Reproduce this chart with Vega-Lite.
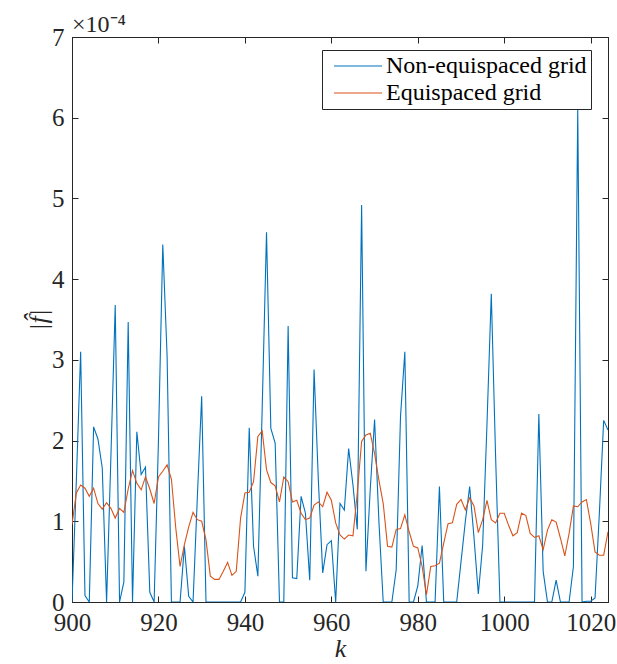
{
  "$schema": "https://vega.github.io/schema/vega-lite/v6.json",
  "width": 536,
  "height": 565,
  "autosize": "none",
  "padding": {"left": 72, "top": 37, "right": 9, "bottom": 62},
  "background": "white",
  "config": {
    "view": {"stroke": "#262626", "strokeWidth": 1},
    "font": "Liberation Serif",
    "axis": {"grid": false, "domainColor": "#262626", "tickColor": "#262626", "labelColor": "#262626", "titleColor": "#262626", "labelFont": "Liberation Serif", "titleFont": "Liberation Serif", "labelFontSize": 25, "titleFontSize": 26, "titleFontWeight": "normal", "tickSize": -6, "domain": true, "labelFlush": false, "labelOverlap": false}
  },
  "title": {"text": "×10⁻⁴", "anchor": "start", "frame": "group", "fontSize": 24, "font": "Liberation Serif", "fontWeight": "normal", "color": "#262626", "offset": -12},
  "data": {"values": [
    {"k":900,"Non-equispaced grid":0,"Equispaced grid":0.96},
    {"k":901,"Non-equispaced grid":1.5,"Equispaced grid":1.35},
    {"k":902,"Non-equispaced grid":3.1,"Equispaced grid":1.45},
    {"k":903,"Non-equispaced grid":0.08,"Equispaced grid":1.41},
    {"k":904,"Non-equispaced grid":0,"Equispaced grid":1.31},
    {"k":905,"Non-equispaced grid":2.17,"Equispaced grid":1.41},
    {"k":906,"Non-equispaced grid":2.02,"Equispaced grid":1.22},
    {"k":907,"Non-equispaced grid":1.66,"Equispaced grid":1.15},
    {"k":908,"Non-equispaced grid":0,"Equispaced grid":1.23},
    {"k":909,"Non-equispaced grid":1.8,"Equispaced grid":1.16},
    {"k":910,"Non-equispaced grid":3.68,"Equispaced grid":1.04},
    {"k":911,"Non-equispaced grid":0,"Equispaced grid":1.16},
    {"k":912,"Non-equispaced grid":0.25,"Equispaced grid":1.11},
    {"k":913,"Non-equispaced grid":3.47,"Equispaced grid":1.4},
    {"k":914,"Non-equispaced grid":0,"Equispaced grid":1.63},
    {"k":915,"Non-equispaced grid":2.11,"Equispaced grid":1.47},
    {"k":916,"Non-equispaced grid":1.58,"Equispaced grid":1.39},
    {"k":917,"Non-equispaced grid":1.67,"Equispaced grid":1.55},
    {"k":918,"Non-equispaced grid":0.12,"Equispaced grid":1.4},
    {"k":919,"Non-equispaced grid":0,"Equispaced grid":1.22},
    {"k":920,"Non-equispaced grid":2.0,"Equispaced grid":1.55},
    {"k":921,"Non-equispaced grid":4.43,"Equispaced grid":1.62},
    {"k":922,"Non-equispaced grid":3.05,"Equispaced grid":1.7},
    {"k":923,"Non-equispaced grid":0,"Equispaced grid":1.52},
    {"k":924,"Non-equispaced grid":0,"Equispaced grid":0.92},
    {"k":925,"Non-equispaced grid":0,"Equispaced grid":0.44},
    {"k":926,"Non-equispaced grid":0.69,"Equispaced grid":0.71},
    {"k":927,"Non-equispaced grid":0.07,"Equispaced grid":0.93},
    {"k":928,"Non-equispaced grid":0,"Equispaced grid":1.11},
    {"k":929,"Non-equispaced grid":1.3,"Equispaced grid":1.02},
    {"k":930,"Non-equispaced grid":2.55,"Equispaced grid":1.0},
    {"k":931,"Non-equispaced grid":0,"Equispaced grid":0.77},
    {"k":932,"Non-equispaced grid":0,"Equispaced grid":0.32},
    {"k":933,"Non-equispaced grid":0,"Equispaced grid":0.28},
    {"k":934,"Non-equispaced grid":0,"Equispaced grid":0.28},
    {"k":935,"Non-equispaced grid":0,"Equispaced grid":0.38},
    {"k":936,"Non-equispaced grid":0,"Equispaced grid":0.49},
    {"k":937,"Non-equispaced grid":0,"Equispaced grid":0.33},
    {"k":938,"Non-equispaced grid":0,"Equispaced grid":0.38},
    {"k":939,"Non-equispaced grid":0,"Equispaced grid":1.04},
    {"k":940,"Non-equispaced grid":0.12,"Equispaced grid":1.35},
    {"k":941,"Non-equispaced grid":2.16,"Equispaced grid":1.36},
    {"k":942,"Non-equispaced grid":0.69,"Equispaced grid":1.49},
    {"k":943,"Non-equispaced grid":0.32,"Equispaced grid":2.05},
    {"k":944,"Non-equispaced grid":2.4,"Equispaced grid":2.12},
    {"k":945,"Non-equispaced grid":4.58,"Equispaced grid":1.64},
    {"k":946,"Non-equispaced grid":2.15,"Equispaced grid":1.48},
    {"k":947,"Non-equispaced grid":1.97,"Equispaced grid":1.44},
    {"k":948,"Non-equispaced grid":0,"Equispaced grid":1.24},
    {"k":949,"Non-equispaced grid":0,"Equispaced grid":1.55},
    {"k":950,"Non-equispaced grid":3.42,"Equispaced grid":1.49},
    {"k":951,"Non-equispaced grid":0.3,"Equispaced grid":1.24},
    {"k":952,"Non-equispaced grid":0.29,"Equispaced grid":1.26},
    {"k":953,"Non-equispaced grid":1.31,"Equispaced grid":1.1},
    {"k":954,"Non-equispaced grid":1.1,"Equispaced grid":1.02},
    {"k":955,"Non-equispaced grid":0.27,"Equispaced grid":1.04},
    {"k":956,"Non-equispaced grid":2.88,"Equispaced grid":1.2},
    {"k":957,"Non-equispaced grid":1.5,"Equispaced grid":1.24},
    {"k":958,"Non-equispaced grid":0.36,"Equispaced grid":1.18},
    {"k":959,"Non-equispaced grid":0.71,"Equispaced grid":1.36},
    {"k":960,"Non-equispaced grid":0.76,"Equispaced grid":1.26},
    {"k":961,"Non-equispaced grid":0,"Equispaced grid":0.98},
    {"k":962,"Non-equispaced grid":1.22,"Equispaced grid":0.83},
    {"k":963,"Non-equispaced grid":1.14,"Equispaced grid":0.78},
    {"k":964,"Non-equispaced grid":1.9,"Equispaced grid":0.83},
    {"k":965,"Non-equispaced grid":1.45,"Equispaced grid":0.82},
    {"k":966,"Non-equispaced grid":0.9,"Equispaced grid":1.35},
    {"k":967,"Non-equispaced grid":4.92,"Equispaced grid":1.99},
    {"k":968,"Non-equispaced grid":0.38,"Equispaced grid":2.07},
    {"k":969,"Non-equispaced grid":1.4,"Equispaced grid":2.09},
    {"k":970,"Non-equispaced grid":2.26,"Equispaced grid":1.84},
    {"k":971,"Non-equispaced grid":1.0,"Equispaced grid":1.51},
    {"k":972,"Non-equispaced grid":0,"Equispaced grid":1.22},
    {"k":973,"Non-equispaced grid":0,"Equispaced grid":0.69},
    {"k":974,"Non-equispaced grid":0,"Equispaced grid":0.68},
    {"k":975,"Non-equispaced grid":0.4,"Equispaced grid":0.9},
    {"k":976,"Non-equispaced grid":2.3,"Equispaced grid":0.91},
    {"k":977,"Non-equispaced grid":3.1,"Equispaced grid":1.08},
    {"k":978,"Non-equispaced grid":0,"Equispaced grid":0.87},
    {"k":979,"Non-equispaced grid":0,"Equispaced grid":0.69},
    {"k":980,"Non-equispaced grid":0.2,"Equispaced grid":0.67},
    {"k":981,"Non-equispaced grid":0.7,"Equispaced grid":0.44},
    {"k":982,"Non-equispaced grid":0,"Equispaced grid":0.09},
    {"k":983,"Non-equispaced grid":0,"Equispaced grid":0.44},
    {"k":984,"Non-equispaced grid":0,"Equispaced grid":0.45},
    {"k":985,"Non-equispaced grid":1.43,"Equispaced grid":0.48},
    {"k":986,"Non-equispaced grid":0,"Equispaced grid":0.73},
    {"k":987,"Non-equispaced grid":0,"Equispaced grid":0.97},
    {"k":988,"Non-equispaced grid":0,"Equispaced grid":0.98},
    {"k":989,"Non-equispaced grid":0,"Equispaced grid":1.21},
    {"k":990,"Non-equispaced grid":0.5,"Equispaced grid":1.27},
    {"k":991,"Non-equispaced grid":1.0,"Equispaced grid":1.14},
    {"k":992,"Non-equispaced grid":1.43,"Equispaced grid":1.29},
    {"k":993,"Non-equispaced grid":0.8,"Equispaced grid":1.19},
    {"k":994,"Non-equispaced grid":0.1,"Equispaced grid":0.86},
    {"k":995,"Non-equispaced grid":0.7,"Equispaced grid":1.02},
    {"k":996,"Non-equispaced grid":2.2,"Equispaced grid":1.26},
    {"k":997,"Non-equispaced grid":3.82,"Equispaced grid":1.02},
    {"k":998,"Non-equispaced grid":1.8,"Equispaced grid":0.98},
    {"k":999,"Non-equispaced grid":0,"Equispaced grid":1.1},
    {"k":1000,"Non-equispaced grid":0,"Equispaced grid":1.1},
    {"k":1001,"Non-equispaced grid":0,"Equispaced grid":0.95},
    {"k":1002,"Non-equispaced grid":0,"Equispaced grid":0.82},
    {"k":1003,"Non-equispaced grid":0,"Equispaced grid":0.86},
    {"k":1004,"Non-equispaced grid":0,"Equispaced grid":1.1},
    {"k":1005,"Non-equispaced grid":0,"Equispaced grid":1.07},
    {"k":1006,"Non-equispaced grid":0,"Equispaced grid":0.85},
    {"k":1007,"Non-equispaced grid":0,"Equispaced grid":0.8},
    {"k":1008,"Non-equispaced grid":2.33,"Equispaced grid":0.82},
    {"k":1009,"Non-equispaced grid":0.38,"Equispaced grid":0.65},
    {"k":1010,"Non-equispaced grid":0,"Equispaced grid":0.89},
    {"k":1011,"Non-equispaced grid":0,"Equispaced grid":1.02},
    {"k":1012,"Non-equispaced grid":0.27,"Equispaced grid":0.99},
    {"k":1013,"Non-equispaced grid":0,"Equispaced grid":0.79},
    {"k":1014,"Non-equispaced grid":0,"Equispaced grid":0.57},
    {"k":1015,"Non-equispaced grid":0,"Equispaced grid":0.85},
    {"k":1016,"Non-equispaced grid":0.44,"Equispaced grid":1.19},
    {"k":1017,"Non-equispaced grid":6.1,"Equispaced grid":1.18},
    {"k":1018,"Non-equispaced grid":0,"Equispaced grid":1.24},
    {"k":1019,"Non-equispaced grid":0.01,"Equispaced grid":1.27},
    {"k":1020,"Non-equispaced grid":0.01,"Equispaced grid":0.97},
    {"k":1021,"Non-equispaced grid":0.05,"Equispaced grid":0.62},
    {"k":1022,"Non-equispaced grid":1.1,"Equispaced grid":0.58},
    {"k":1023,"Non-equispaced grid":2.25,"Equispaced grid":0.58},
    {"k":1024,"Non-equispaced grid":2.13,"Equispaced grid":0.87}
  ]},
  "transform": [{"fold": ["Non-equispaced grid", "Equispaced grid"], "as": ["series", "value"]}],
  "layer": [
    {
      "mark": {"type": "line", "strokeWidth": 1.1, "clip": true},
      "encoding": {
        "x": {"field": "k", "type": "quantitative", "scale": {"domain": [900, 1024], "nice": false, "zero": false},
              "axis": {"orient": "bottom", "values": [900, 920, 940, 960, 980, 1000, 1020], "format": "d", "labelPadding": 14, "title": "k", "titleFontStyle": "italic", "titlePadding": 0}},
        "y": {"field": "value", "type": "quantitative", "scale": {"domain": [0, 7], "nice": false},
              "axis": {"orient": "left", "values": [0, 1, 2, 3, 4, 5, 6, 7], "labelPadding": 14, "title": "|f̂|", "titleFontStyle": "italic", "titlePadding": 0}},
        "color": {"field": "series", "type": "nominal",
                  "scale": {"domain": ["Non-equispaced grid", "Equispaced grid"], "range": ["#0072BD", "#D95319"]},
                  "legend": {"orient": "none", "legendX": 250, "legendY": 13, "title": null, "symbolType": "M-0.66,0L7.34,0", "symbolSize": 144, "symbolStrokeWidth": 1.2, "labelOffset": 36, "labelFontSize": 24, "labelFont": "Liberation Serif", "labelColor": "#000000", "labelLimit": 400, "strokeColor": "#262626", "fillColor": "white", "padding": 4, "rowPadding": 3, "offset": 0}}
      }
    },
    {
      "mark": {"type": "point", "opacity": 0},
      "encoding": {
        "x": {"field": "k", "type": "quantitative", "axis": {"orient": "top", "values": [900, 920, 940, 960, 980, 1000, 1020], "labels": false, "title": null}},
        "y": {"field": "value", "type": "quantitative", "axis": {"orient": "right", "values": [0, 1, 2, 3, 4, 5, 6, 7], "labels": false, "title": null}}
      }
    }
  ]
}
